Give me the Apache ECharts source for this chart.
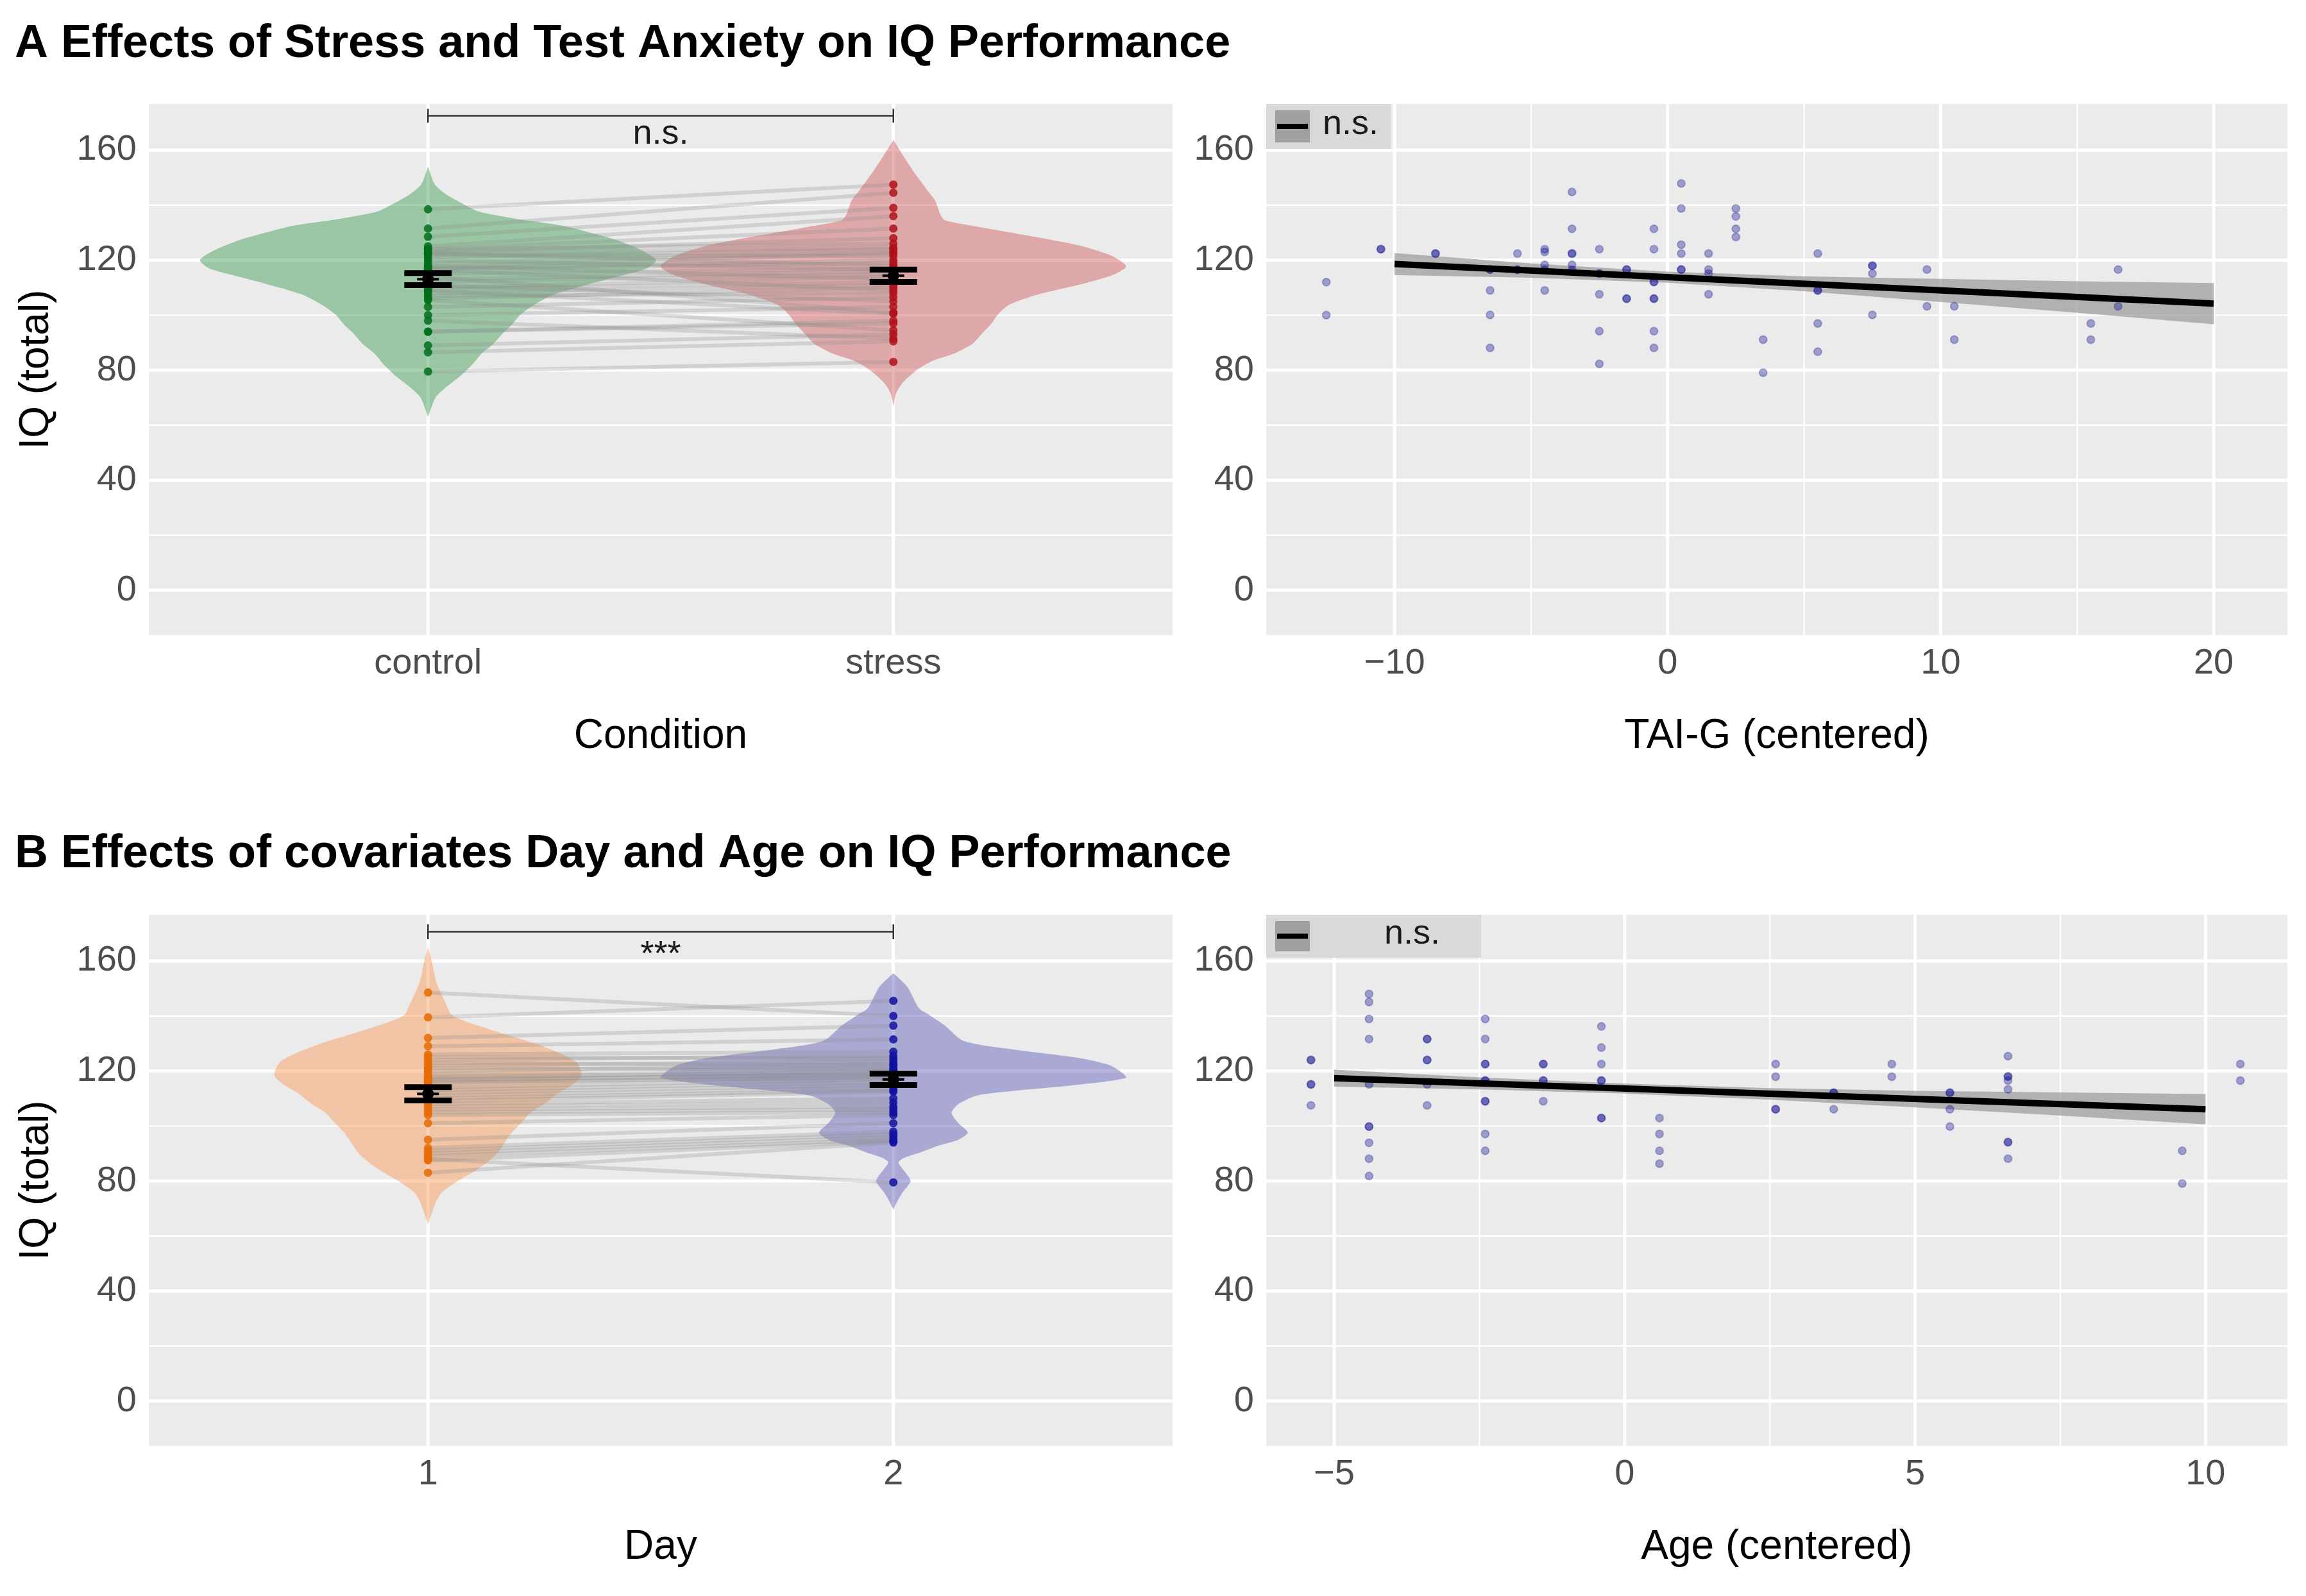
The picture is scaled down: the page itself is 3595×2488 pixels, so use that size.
<!DOCTYPE html>
<html><head><meta charset="utf-8">
<script src="https://cdn.jsdelivr.net/npm/echarts@6/dist/echarts.min.js"></script>
<style>html,body{margin:0;padding:0;background:#fff}#c{width:3595px;height:2488px}</style>
</head><body><div id="c"></div><script>
// ---------- data ----------
const titleA = 'A Effects of Stress and Test Anxiety on IQ Performance';
const titleB = 'B Effects of covariates Day and Age on IQ Performance';
const conditionLabels = ['control', 'stress'];
const dayLabels = ['1', '2'];
const iqTicks = [0, 40, 80, 120, 160];
const iqMinor = [20, 60, 100, 140];
const taiTicks = [-10, 0, 10, 20];
const taiMinor = [-5, 5, 15];
const ageTicks = [-5, 0, 5, 10];
const ageMinor = [-2.5, 2.5, 7.5];

// paired IQ values (index = participant)
const iqControl = [138.5,131.5,128.5,125,124,124,123,122.5,122.5,122,121,120,119,118,117.5,117,116.5,116.5,115,114,113,112,111,110,109.5,109,108,107,106,105.5,103,100,98,94,94,89,86.5,79.5];
const iqStress  = [147.5,144.5,139,136,131.5,126,128,124.5,118,121.5,124,116.5,123,113,122.5,120,109,119,117,101,116,115,105,114,112,100.5,111,108,110,94.5,106.5,103,91.5,98,97,93,90.5,83];
const iqDay1 = [148.5,139.5,132,129,126,125,124,123,122,121,120,119,118,117.5,117,116.5,116,115.5,114,113,112,111,110,109,108,107,106,105,104,101,95,92,91,90,89,88,87.5,83];
const iqDay2 = [140,145.5,136.5,131.5,127,124.5,125.5,122,123.5,120.5,122.5,121,119.5,120,118.5,119,117.5,118,117,116,115,114,113,112.5,110,108.5,107,106,105,104,101,98,97,96,95,79.5,94.5,94];

// summary (mean, standard error)
const summaryCondition = [[113.1, 2.2], [114.35, 2.25]];
const summaryDay = [[111.7, 2.4], [116.95, 2.05]];

// violin outlines: [IQ, half-width in category units]
const violinControl = [[154,0],[147.7,0.014],[143.9,0.039],[140,0.08],[137.6,0.11],[135,0.19],[132.5,0.29],[129.5,0.36],[127,0.41],[123.5,0.46],[120,0.49],[117,0.47],[114.6,0.42],[111,0.34],[107.5,0.27],[104,0.23],[100.4,0.2],[96.5,0.18],[93.3,0.16],[89.5,0.14],[86,0.115],[82,0.095],[78,0.07],[74,0.04],[70,0.016],[63,0]];
const violinStress = [[163.7,0],[157,0.025],[151.6,0.046],[145.4,0.073],[141.6,0.09],[137,0.1],[134.6,0.11],[132.5,0.17],[130.7,0.23],[128,0.32],[125.3,0.4],[121.5,0.47],[117.7,0.5],[114.5,0.47],[111.1,0.4],[107.5,0.31],[103.9,0.25],[100.3,0.225],[96.8,0.21],[93.2,0.19],[89.6,0.17],[86,0.13],[83.3,0.083],[80,0.05],[75.4,0.02],[71.6,0.006],[67,0]];
const violinDay1 = [[165,0],[160,0.008],[152.2,0.018],[144.3,0.039],[140.5,0.05],[138.2,0.078],[134.2,0.15],[130,0.23],[126,0.29],[122.9,0.32],[118.3,0.33],[115,0.31],[112,0.28],[108,0.25],[104.8,0.22],[101,0.2],[97.6,0.18],[94,0.165],[90.3,0.15],[86.5,0.125],[83.6,0.1],[79.8,0.062],[75.9,0.03],[72,0.016],[64.2,0]];
const violinDay2 = [[155.6,0],[150.6,0.03],[142.8,0.055],[140.5,0.076],[136.6,0.11],[131,0.15],[128,0.25],[124.7,0.4],[122.4,0.46],[120.2,0.485],[117.5,0.5],[114.7,0.38],[112.8,0.26],[111.1,0.18],[108,0.14],[104.8,0.125],[101,0.14],[97.6,0.16],[95,0.14],[93,0.1],[90.5,0.06],[88.5,0.025],[86.8,0.011],[84.4,0.02],[81.5,0.033],[79.8,0.037],[75.9,0.02],[72.8,0.009],[69.6,0]];

// scatter: [TAI-G centered, IQ]
const taiScatter = [[-12.5,112],[-12.5,100],[-10.5,124],[-10.5,124],[-8.5,122.4],[-8.5,122.4],
 [-6.5,116.6],[-6.5,116.6],[-6.5,109],[-6.5,100.1],[-6.5,88.1],
 [-5.5,122.4],[-5.5,116.5],[-5.5,116.5],
 [-4.5,124],[-4.5,123],[-4.5,118.3],[-4.5,116.5],[-4.5,109],
 [-3.5,144.8],[-3.5,131.4],[-3.5,122.4],[-3.5,122.4],[-3.5,118.3],[-3.5,116.5],
 [-2.5,124],[-2.5,115.1],[-2.5,115.1],[-2.5,107.6],[-2.5,94.2],[-2.5,82.3],
 [-1.5,116.6],[-1.5,116.6],[-1.5,106],[-1.5,106],
 [-0.5,131.4],[-0.5,124],[-0.5,112.1],[-0.5,112.1],[-0.5,106],[-0.5,106],[-0.5,94.2],[-0.5,88.1],
 [0.5,147.9],[0.5,138.8],[0.5,125.6],[0.5,122.4],[0.5,116.6],[0.5,116.6],
 [1.5,122.4],[1.5,116.6],[1.5,115.1],[1.5,107.6],
 [2.5,138.8],[2.5,135.9],[2.5,131.4],[2.5,128.4],
 [3.5,91.1],[3.5,79.1],
 [5.5,122.4],[5.5,109],[5.5,109],[5.5,97],[5.5,86.7],
 [7.5,118],[7.5,118],[7.5,115.1],[7.5,100.1],
 [9.5,116.6],[9.5,103.2],[10.5,103.2],[10.5,91.1],
 [15.5,97],[15.5,91.1],[16.5,116.6],[16.5,103.2]];
// scatter: [Age centered, IQ]
const ageScatter = [[-5.4,124],[-5.4,124],[-5.4,115.1],[-5.4,115.1],[-5.4,107.5],
 [-4.4,148],[-4.4,145.1],[-4.4,138.9],[-4.4,131.6],[-4.4,115.1],[-4.4,99.8],[-4.4,99.8],[-4.4,93.9],[-4.4,88.1],[-4.4,81.8],
 [-3.4,131.6],[-3.4,131.6],[-3.4,124],[-3.4,124],[-3.4,115.1],[-3.4,107.5],
 [-2.4,138.9],[-2.4,131.6],[-2.4,122.5],[-2.4,122.5],[-2.4,116.5],[-2.4,116.5],[-2.4,109],[-2.4,109],[-2.4,97.1],[-2.4,91],
 [-1.4,122.5],[-1.4,122.5],[-1.4,116.5],[-1.4,116.5],[-1.4,109],
 [-0.4,136.2],[-0.4,128.5],[-0.4,122.5],[-0.4,116.5],[-0.4,116.5],[-0.4,102.9],[-0.4,102.9],
 [0.6,102.9],[0.6,97.1],[0.6,91],[0.6,86.3],
 [2.6,122.5],[2.6,117.9],[2.6,106.1],[2.6,106.1],
 [3.6,112.1],[3.6,112.1],[3.6,106.1],
 [4.6,122.5],[4.6,117.9],
 [5.6,112.1],[5.6,112.1],[5.6,106.1],[5.6,99.8],
 [6.6,125.4],[6.6,118],[6.6,118],[6.6,116.5],[6.6,113.3],[6.6,94.1],[6.6,94.1],[6.6,88.1],
 [9.6,91],[9.6,79.1],[10.6,122.5],[10.6,116.5]];

// regression lines and confidence bands
const taiFit = [[-10,118.6],[20,104.2]];
const taiBandX = [-10,-5,0,5,10,15,20];
const taiBandUpper = [122.6,118.8,115.8,114.1,113.2,112.3,111.7];
const taiBandLower = [114.6,113.6,111.8,108.7,104.8,100.9,96.7];
const ageFit = [[-5,117.4],[10,106.1]];
const ageBandX = [-5,-2.5,0,2.5,5,7.5,10];
const ageBandUpper = [120.5,117.7,115.4,113.8,112.8,112.2,111.6];
const ageBandLower = [114.3,113.3,111.8,109.6,106.8,103.8,100.6];

// significance brackets
const sigCondition = {label:'n.s.', y:172.5, tip:2.5, textY:165.8};
const sigDay = {label:'***', y:170.6, tip:2.7, textY:162.0};
const fitLegendLabel = 'n.s.';

// ---------- styling ----------
const FONT = 'Liberation Sans';
const PANEL_BG = '#EBEBEB';
const TICK_COLOR = '#4D4D4D';
const TICK_SIZE = 56;
const grids = [
  {left:232, top:162, width:1596, height:828},
  {left:1974, top:162, width:1592, height:828},
  {left:232, top:1426, width:1596, height:828},
  {left:1974, top:1426, width:1592, height:828}
];
const Y_MIN = -16.3, Y_MAX = 176.8;

function minus(v){ return v < 0 ? '\u2212' + Math.abs(v) : String(v); }

function xAxisCat(gi, labels, name){
  return {type:'value', gridIndex:gi, min:0.4, max:2.6,
    axisLine:{show:false}, axisTick:{show:false, customValues:[1,2]}, splitLine:{show:false},
    axisLabel:{customValues:[1,2], formatter:v=>labels[Math.round(v)-1], fontSize:TICK_SIZE, color:TICK_COLOR, margin:17, fontFamily:FONT},
    name:name, nameLocation:'middle', nameGap:126, nameTextStyle:{fontSize:64, color:'#000', fontFamily:FONT}};
}
function xAxisVal(gi, min, max, ticks, name){
  return {type:'value', gridIndex:gi, min:min, max:max,
    axisLine:{show:false}, axisTick:{show:false, customValues:ticks}, splitLine:{show:false},
    axisLabel:{customValues:ticks, formatter:minus, fontSize:TICK_SIZE, color:TICK_COLOR, margin:17, fontFamily:FONT},
    name:name, nameLocation:'middle', nameGap:126, nameTextStyle:{fontSize:64, color:'#000', fontFamily:FONT}};
}
function yAxis(gi, withName){
  const a = {type:'value', gridIndex:gi, min:Y_MIN, max:Y_MAX,
    axisLine:{show:false}, axisTick:{show:false, customValues:iqTicks}, splitLine:{show:false},
    axisLabel:{customValues:iqTicks, fontSize:TICK_SIZE, color:TICK_COLOR, margin:19, fontFamily:FONT, padding:[8,0,0,0]}};
  if (withName) Object.assign(a, {name:'IQ (total)', nameLocation:'middle', nameGap:143, nameRotate:90,
    nameTextStyle:{fontSize:64, color:'#000', fontFamily:FONT}});
  return a;
}

function gridLineSeries(gi, vals, vertical, width){
  return {type:'custom', xAxisIndex:gi, yAxisIndex:gi, silent:true, z:1, clip:false,
    data: vals.map(v=>[v]),
    renderItem:(p, api)=>{
      const cs = p.coordSys;
      if (vertical){
        const x = api.coord([api.value(0), 50])[0];
        return {type:'line', shape:{x1:x, y1:cs.y, x2:x, y2:cs.y+cs.height}, style:{stroke:'#FFFFFF', lineWidth:width}};
      }
      const ext = (gi % 2 === 0) ? 1.5 : 0;
      const y = api.coord([ext, api.value(0)])[1];
      return {type:'line', shape:{x1:cs.x, y1:y, x2:cs.x+cs.width, y2:y}, style:{stroke:'#FFFFFF', lineWidth:width}};
    }};
}

function violinSeries(gi, profiles, fills){
  return {type:'custom', xAxisIndex:gi, yAxisIndex:gi, silent:true, z:2,
    data: profiles.map((p, i)=>[i+1, p[0][0]]),
    renderItem:(p, api)=>{
      const prof = profiles[p.dataIndex];
      const cx = api.value(0);
      const pts = [];
      for (let i=0;i<prof.length;i++) pts.push(api.coord([cx - prof[i][1], prof[i][0]]));
      for (let i=prof.length-1;i>=0;i--) pts.push(api.coord([cx + prof[i][1], prof[i][0]]));
      return {type:'polygon', shape:{points:pts, smooth:0.25}, style:{fill:fills[p.dataIndex]}};
    }};
}

function pairSeries(gi, a, b){
  return {type:'custom', xAxisIndex:gi, yAxisIndex:gi, silent:true, z:3,
    data: a.map((v,i)=>[v, b[i]]),
    renderItem:(p, api)=>{
      const p1 = api.coord([1, api.value(0)]);
      const p2 = api.coord([2, api.value(1)]);
      return {type:'line', shape:{x1:p1[0], y1:p1[1], x2:p2[0], y2:p2[1]},
        style:{stroke:'rgba(140,140,140,0.28)', lineWidth:6}};
    }};
}

function pointSeries(gi, xpos, vals, color){
  return {type:'scatter', xAxisIndex:gi, yAxisIndex:gi, silent:true, z:4,
    symbolSize:13, itemStyle:{color:color, opacity:0.85},
    data: vals.map(v=>[xpos, v])};
}

function errorSeries(gi, summ){
  return {type:'custom', xAxisIndex:gi, yAxisIndex:gi, silent:true, z:5,
    data: summ.map((s,i)=>[i+1, s[0], s[1]]),
    renderItem:(p, api)=>{
      const x = api.value(0), m = api.value(1), se = api.value(2);
      const top = api.coord([x, m+se]), bot = api.coord([x, m-se]), mid = api.coord([x, m]);
      const capL = api.coord([x-0.051, m])[0], capR = api.coord([x+0.051, m])[0];
      return {type:'group', children:[
        {type:'line', shape:{x1:top[0], y1:top[1], x2:bot[0], y2:bot[1]}, style:{stroke:'#000', lineWidth:5}},
        {type:'line', shape:{x1:capL, y1:top[1], x2:capR, y2:top[1]}, style:{stroke:'#000', lineWidth:9}},
        {type:'line', shape:{x1:capL, y1:bot[1], x2:capR, y2:bot[1]}, style:{stroke:'#000', lineWidth:9}},
        {type:'line', shape:{x1:mid[0]-17, y1:mid[1], x2:mid[0]+17, y2:mid[1]}, style:{stroke:'#000', lineWidth:4}},
        {type:'circle', shape:{cx:mid[0], cy:mid[1], r:9}, style:{fill:'#000'}}
      ]};
    }};
}

function sigSeries(gi, sig){
  return {type:'custom', xAxisIndex:gi, yAxisIndex:gi, silent:true, z:6, clip:false,
    data:[[1.5, sig.y]],
    renderItem:(p, api)=>{
      const a1 = api.coord([1, sig.y + sig.tip]), a2 = api.coord([1, sig.y - sig.tip]);
      const b1 = api.coord([2, sig.y + sig.tip]), b2 = api.coord([2, sig.y - sig.tip]);
      const l = api.coord([1, sig.y]), r = api.coord([2, sig.y]);
      const t = api.coord([1.5, sig.textY]);
      const st = {stroke:'#333333', lineWidth:2.5};
      return {type:'group', children:[
        {type:'line', shape:{x1:l[0], y1:l[1], x2:r[0], y2:r[1]}, style:st},
        {type:'line', shape:{x1:a1[0], y1:a1[1], x2:a2[0], y2:a2[1]}, style:st},
        {type:'line', shape:{x1:b1[0], y1:b1[1], x2:b2[0], y2:b2[1]}, style:st},
        {type:'text', style:{x:t[0], y:t[1], text:sig.label, fontSize:54, fontFamily:FONT, fill:'#1A1A1A', align:'center', verticalAlign:'middle'}}
      ]};
    }};
}

function bandSeries(gi, xs, lo, hi){
  return {type:'custom', xAxisIndex:gi, yAxisIndex:gi, silent:true, z:3,
    data:[[xs[0], lo[0]]],
    renderItem:(p, api)=>{
      const pts = [];
      for (let i=0;i<xs.length;i++) pts.push(api.coord([xs[i], hi[i]]));
      for (let i=xs.length-1;i>=0;i--) pts.push(api.coord([xs[i], lo[i]]));
      return {type:'polygon', shape:{points:pts}, style:{fill:'rgba(153,153,153,0.7)'}};
    }};
}

function fitSeries(gi, fit){
  return {type:'line', xAxisIndex:gi, yAxisIndex:gi, silent:true, z:5, showSymbol:false,
    lineStyle:{color:'#000', width:10}, data:fit};
}
function scatterRight(gi, pts){
  return {type:'scatter', xAxisIndex:gi, yAxisIndex:gi, silent:true, z:4, symbolSize:12,
    itemStyle:{color:'rgba(0,0,139,0.42)', borderColor:'rgba(0,0,139,0.3)', borderWidth:2}, data:pts};
}

function legendGraphic(x, y, w, h, textX){
  return [
    {type:'rect', left:x, top:y, shape:{width:w, height:h}, style:{fill:'#D9D9D9'}, z:10},
    {type:'rect', left:x+14, top:y+10, shape:{width:54, height:h-20}, style:{fill:'#A0A0A0'}, z:11},
    {type:'rect', left:x+17, top:y+h/2-4, shape:{width:48, height:8}, style:{fill:'#000'}, z:12},
    {type:'text', left:textX, top:y+h/2-30, style:{text:fitLegendLabel, fontSize:54, fontFamily:FONT, fill:'#1A1A1A'}, z:12}
  ];
}

const series = [];
[0,1,2,3].forEach(gi=>{
  series.push(gridLineSeries(gi, iqMinor, false, 2.5));
  series.push(gridLineSeries(gi, iqTicks, false, 5));
});
series.push(gridLineSeries(0, [1,2], true, 5));
series.push(gridLineSeries(2, [1,2], true, 5));
series.push(gridLineSeries(1, taiMinor, true, 2.5));
series.push(gridLineSeries(1, taiTicks, true, 5));
series.push(gridLineSeries(3, ageMinor, true, 2.5));
series.push(gridLineSeries(3, ageTicks, true, 5));

series.push(violinSeries(0, [violinControl, violinStress], ['rgba(32,142,57,0.4)', 'rgba(205,67,67,0.4)']));
series.push(pairSeries(0, iqControl, iqStress));
series.push(pointSeries(0, 1, iqControl, '#006E1A'));
series.push(pointSeries(0, 2, iqStress, '#B0101A'));
series.push(errorSeries(0, summaryCondition));
series.push(sigSeries(0, sigCondition));

series.push(violinSeries(2, [violinDay1, violinDay2], ['rgba(247,137,57,0.4)', 'rgba(70,70,177,0.4)']));
series.push(pairSeries(2, iqDay1, iqDay2));
series.push(pointSeries(2, 1, iqDay1, '#E86A00'));
series.push(pointSeries(2, 2, iqDay2, '#1010A0'));
series.push(errorSeries(2, summaryDay));
series.push(sigSeries(2, sigDay));

series.push(scatterRight(1, taiScatter));
series.push(bandSeries(1, taiBandX, taiBandLower, taiBandUpper));
series.push(fitSeries(1, taiFit));
series.push(scatterRight(3, ageScatter));
series.push(bandSeries(3, ageBandX, ageBandLower, ageBandUpper));
series.push(fitSeries(3, ageFit));

const option = {
  animation:false,
  backgroundColor:'#FFFFFF',
  textStyle:{fontFamily:FONT},
  title:[
    {text:titleA, left:23, top:33, padding:0, textStyle:{fontSize:72, fontWeight:'bold', color:'#000', fontFamily:FONT}},
    {text:titleB, left:23, top:1296, padding:0, textStyle:{fontSize:72, fontWeight:'bold', color:'#000', fontFamily:FONT}}
  ],
  grid: grids.map(g=>Object.assign({show:true, backgroundColor:PANEL_BG, borderWidth:0}, g)),
  xAxis:[
    xAxisCat(0, conditionLabels, 'Condition'),
    xAxisVal(1, -14.7, 22.7, taiTicks, 'TAI-G (centered)'),
    xAxisCat(2, dayLabels, 'Day'),
    xAxisVal(3, -6.17, 11.41, ageTicks, 'Age (centered)')
  ],
  yAxis:[yAxis(0,true), yAxis(1,false), yAxis(2,true), yAxis(3,false)],
  graphic: [].concat(legendGraphic(1974, 162, 194, 70, 2062), legendGraphic(1974, 1426, 335, 67, 2158)),
  series: series
};
const chart = echarts.init(document.getElementById('c'), null, {width:3595, height:2488});
chart.setOption(option);
</script></body></html>
